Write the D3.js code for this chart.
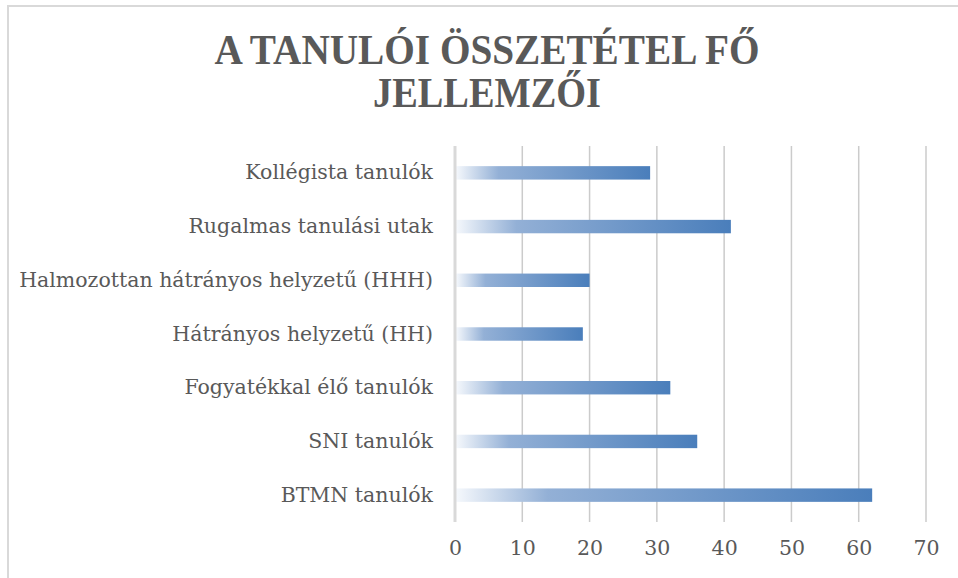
<!DOCTYPE html>
<html>
<head>
<meta charset="utf-8">
<script src="https://cdn.jsdelivr.net/npm/d3@7"></script>
<style>
  body { margin: 0; background: #fff; }
</style>
</head>
<body>
<div id="chart"></div>
<script>
const categories = [
  'Kollégista tanulók',
  'Rugalmas tanulási utak',
  'Halmozottan hátrányos helyzetű (HHH)',
  'Hátrányos helyzetű (HH)',
  'Fogyatékkal élő tanulók',
  'SNI tanulók',
  'BTMN tanulók'
]
const values = [29, 41, 20, 19, 32, 36, 62]
const ticks = [0, 10, 20, 30, 40, 50, 60, 70]
const titleLines = ['A TANULÓI ÖSSZETÉTEL FŐ', 'JELLEMZŐI']

const W = 958, H = 578
const margin = { top: 146, left: 455 }
const plotW = 471, plotH = 376

const svg = d3.select('#chart')
  .append('svg')
  .attr('width', W)
  .attr('height', H)

// chart area border
svg.append('rect')
  .attr('x', 8).attr('y', 6)
  .attr('width', W + 20).attr('height', H + 20)
  .style('fill', 'none')
  .style('stroke', '#d9d9d9')
  .style('stroke-width', 2)

const grad = svg.append('defs').append('linearGradient')
  .attr('id', 'barGrad')
  .attr('x1', '0%').attr('x2', '100%')
  .attr('y1', '0%').attr('y2', '0%')
grad.append('stop').attr('offset', '0%').attr('stop-color', '#f5f8fc')
grad.append('stop').attr('offset', '22%').attr('stop-color', '#93b0d6')
grad.append('stop').attr('offset', '100%').attr('stop-color', '#4a7ebb')

const title = svg.append('text')
  .attr('x', 487)
  .attr('y', 64)
  .attr('text-anchor', 'middle')
  .style('font-family', '"Liberation Serif", serif')
  .style('font-weight', 'bold')
  .style('font-size', '43px')
  .style('fill', '#595959')
const titleWidths = [545, 228]
titleLines.forEach((t, i) => {
  title.append('tspan')
    .attr('x', 487)
    .attr('dy', i === 0 ? 0 : 43)
    .attr('textLength', titleWidths[i])
    .attr('lengthAdjust', 'spacingAndGlyphs')
    .text(t)
})

const xScale = d3.scaleLinear()
  .domain([0, 70])
  .range([0, plotW])

const yScale = d3.scaleBand()
  .domain(categories)
  .range([0, plotH])
  .paddingInner(0.75)
  .paddingOuter(0.375)

const g = svg.append('g')
  .attr('transform', 'translate(' + margin.left + ',' + margin.top + ')')

// gridlines
g.selectAll('line.grid')
  .data(ticks.filter(d => d > 0))
  .enter().append('line')
  .attr('class', 'grid')
  .attr('x1', d => xScale(d)).attr('x2', d => xScale(d))
  .attr('y1', 0).attr('y2', plotH)
  .style('stroke', '#cbcbcb')
  .style('stroke-width', 1.5)

g.selectAll('rect.bar')
  .data(values)
  .enter().append('rect')
  .attr('class', 'bar')
  .attr('x', xScale(0) + 1)
  .attr('y', (d, i) => yScale(categories[i]))
  .attr('width', d => xScale(d) - xScale(0) - 1)
  .attr('height', yScale.bandwidth())
  .style('fill', 'url(#barGrad)')

// zero axis line
g.append('line')
  .attr('x1', xScale(0)).attr('x2', xScale(0))
  .attr('y1', 0).attr('y2', plotH)
  .style('stroke', '#d9d9d9')
  .style('stroke-width', 3)

// category labels
const yAxis = d3.axisLeft(yScale).tickSize(0).tickPadding(22)
const yGuide = g.append('g').call(yAxis)
yGuide.select('.domain').remove()
yGuide.selectAll('text')
  .style('font-family', '"DejaVu Serif", serif')
  .style('font-size', '20.5px')
  .style('fill', '#595959')

// value axis
const xAxis = d3.axisBottom(xScale).tickValues(ticks).tickSize(0).tickPadding(18)
const xGuide = g.append('g')
  .attr('transform', 'translate(0,' + plotH + ')')
  .call(xAxis)
xGuide.select('.domain').remove()
xGuide.selectAll('text')
  .style('font-family', '"DejaVu Serif", serif')
  .style('font-size', '20.5px')
  .style('fill', '#595959')
</script>
</body>
</html>
